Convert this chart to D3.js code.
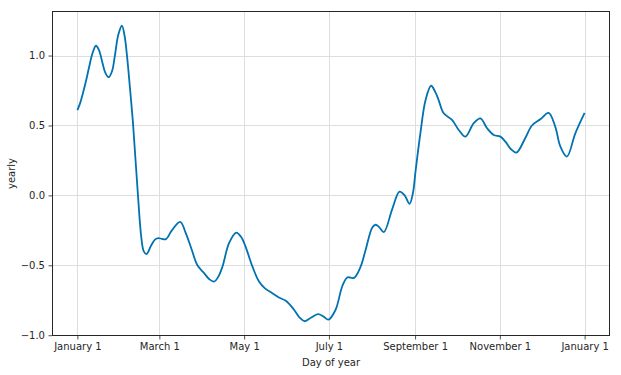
<!DOCTYPE html>
<html>
<head>
<meta charset="utf-8">
<script src="https://cdn.jsdelivr.net/npm/d3@7"></script>
<style>
  body { margin: 0; background: #fff; }
  svg { font-family: "DejaVu Sans", sans-serif; }
</style>
</head>
<body>
<svg id="chart" width="621" height="375"></svg>
<script>
// day of year (0 = January 1) and yearly seasonality value
var days = [0, 2, 4, 6.5, 8.5, 11, 13.4, 15.5, 18, 20, 22.5, 25, 27, 29.5, 32.1, 34, 35.7, 38, 40, 43.6, 46, 47.8, 49.8,
  53, 56, 58.4, 61, 63.7, 68, 74, 78, 82, 86.4, 91.2, 95, 98.4, 101.5, 104.4, 109.2,
  114.4, 118, 121, 126, 130.7, 135, 140.3, 145, 150, 155.9, 160, 163.6, 168, 173.1,
  177, 180.6, 185.8, 190.6, 194.2, 199, 203.8, 207.4, 212.2, 214.5, 217, 220.5, 226.5,
  231.8, 235.5, 239, 241.5, 243.3, 246.9, 250.5, 254.5, 257.5, 260, 263.6, 269.6,
  274.4, 279.2, 285.2, 290, 294.8, 299.6, 304.4, 308, 312, 315.9, 322.3, 327.1, 333.1,
  339.1, 343.9, 347.5, 352.2, 358.3, 365];
var yearly = [0.61, 0.66, 0.73, 0.83, 0.92, 1.02, 1.07, 1.04, 0.95, 0.88, 0.845, 0.89, 1.0, 1.15, 1.213, 1.14, 1.0, 0.75, 0.52, 0.0, -0.3, -0.4, -0.42,
  -0.36, -0.315, -0.305, -0.312, -0.313, -0.25, -0.19, -0.27, -0.38, -0.50, -0.556, -0.6, -0.616, -0.58, -0.51, -0.34,
  -0.266, -0.3, -0.366, -0.51, -0.616, -0.665, -0.70, -0.73, -0.754, -0.818, -0.875, -0.90, -0.875, -0.849,
  -0.865, -0.889, -0.818, -0.65, -0.587, -0.59, -0.51, -0.39, -0.23, -0.21, -0.225, -0.263, -0.10,
  0.027, 0.0, -0.06, 0.02, 0.17, 0.45, 0.68, 0.784, 0.74, 0.68, 0.587, 0.54,
  0.468, 0.42, 0.516, 0.551, 0.48, 0.432, 0.42, 0.384, 0.33, 0.306, 0.41, 0.50, 0.544,
  0.59, 0.49, 0.35, 0.277, 0.444, 0.59];

var xTickDays = [0, 59, 120, 181, 243, 304, 365];
var xTickLabels = ["January 1", "March 1", "May 1", "July 1", "September 1", "November 1", "January 1"];
var yTicks = [-1.0, -0.5, 0.0, 0.5, 1.0];

var svg = d3.select("#chart");
var margin = {left: 52, right: 11, top: 11, bottom: 39};
var W = 621, H = 375;

// matplotlib-style 5% margins
var xPad = 365 * 0.05;
var x = d3.scaleLinear().domain([0 - xPad, 365 + xPad]).range([margin.left, W - margin.right]);
var ymin = d3.min(yearly), ymax = d3.max(yearly), yPad = (ymax - ymin) * 0.05;
var y = d3.scaleLinear().domain([ymin - yPad, ymax + yPad]).range([H - margin.bottom, margin.top]);

var pts = days.map(function(d, i) { return [d, yearly[i]]; });

// grid
var grid = svg.append("g").attr("class", "grid")
grid.selectAll("line.vx").data(xTickDays).enter().append("line")
  .attr("x1", function(d) { return Math.round(x(d)) + 0.5; })
  .attr("x2", function(d) { return Math.round(x(d)) + 0.5; })
  .attr("y1", margin.top).attr("y2", H - margin.bottom)
  .style("stroke", "#dedede").style("stroke-width", 1);
grid.selectAll("line.hy").data(yTicks).enter().append("line")
  .attr("y1", function(d) { return Math.round(y(d)) + 0.5; })
  .attr("y2", function(d) { return Math.round(y(d)) + 0.5; })
  .attr("x1", margin.left).attr("x2", W - margin.right)
  .style("stroke", "#dedede").style("stroke-width", 1);

// the curve
var line = d3.line()
  .x(function(d) { return x(d[0]); })
  .y(function(d) { return y(d[1]); })
  .curve(d3.curveCatmullRom.alpha(0.5));

svg.append("path").datum(pts)
  .attr("d", line)
  .style("fill", "none")
  .style("stroke", "#0072B2")
  .style("stroke-width", 1.8);

// axes
var xAxis = d3.axisBottom(x).tickValues(xTickDays)
  .tickFormat(function(d, i) { return xTickLabels[i]; })
  .tickSizeInner(3.5).tickSizeOuter(0).tickPadding(3.5);
var yAxis = d3.axisLeft(y).tickValues(yTicks)
  .tickFormat(d3.format(".1f"))
  .tickSizeInner(3.5).tickSizeOuter(0).tickPadding(3.5);

var gx = svg.append("g").attr("transform", "translate(0," + (H - margin.bottom) + ")").call(xAxis);
var gy = svg.append("g").attr("transform", "translate(" + margin.left + ",0)").call(yAxis);
[gx, gy].forEach(function(g) {
  g.select(".domain").remove();
  g.selectAll("text").style("font-size", "10px").style("fill", "#262626")
    .style("font-family", "DejaVu Sans, sans-serif");
  g.selectAll(".tick line").style("stroke", "#262626").style("stroke-width", 0.8);
});

// frame
svg.append("rect")
  .attr("x", margin.left + 0.5).attr("y", margin.top + 0.5)
  .attr("width", W - margin.right - margin.left - 1)
  .attr("height", H - margin.bottom - margin.top - 1)
  .style("fill", "none").style("stroke", "#262626").style("stroke-width", 1);

// labels
svg.append("text")
  .attr("x", (margin.left + W - margin.right) / 2).attr("y", 366)
  .style("text-anchor", "middle").style("font-size", "10px").style("fill", "#262626")
  .text("Day of year");
svg.append("text")
  .attr("transform", "translate(15," + ((margin.top + H - margin.bottom) / 2) + ") rotate(-90)")
  .style("text-anchor", "middle").style("font-size", "10px").style("fill", "#262626")
  .text("yearly");
</script>
</body>
</html>
